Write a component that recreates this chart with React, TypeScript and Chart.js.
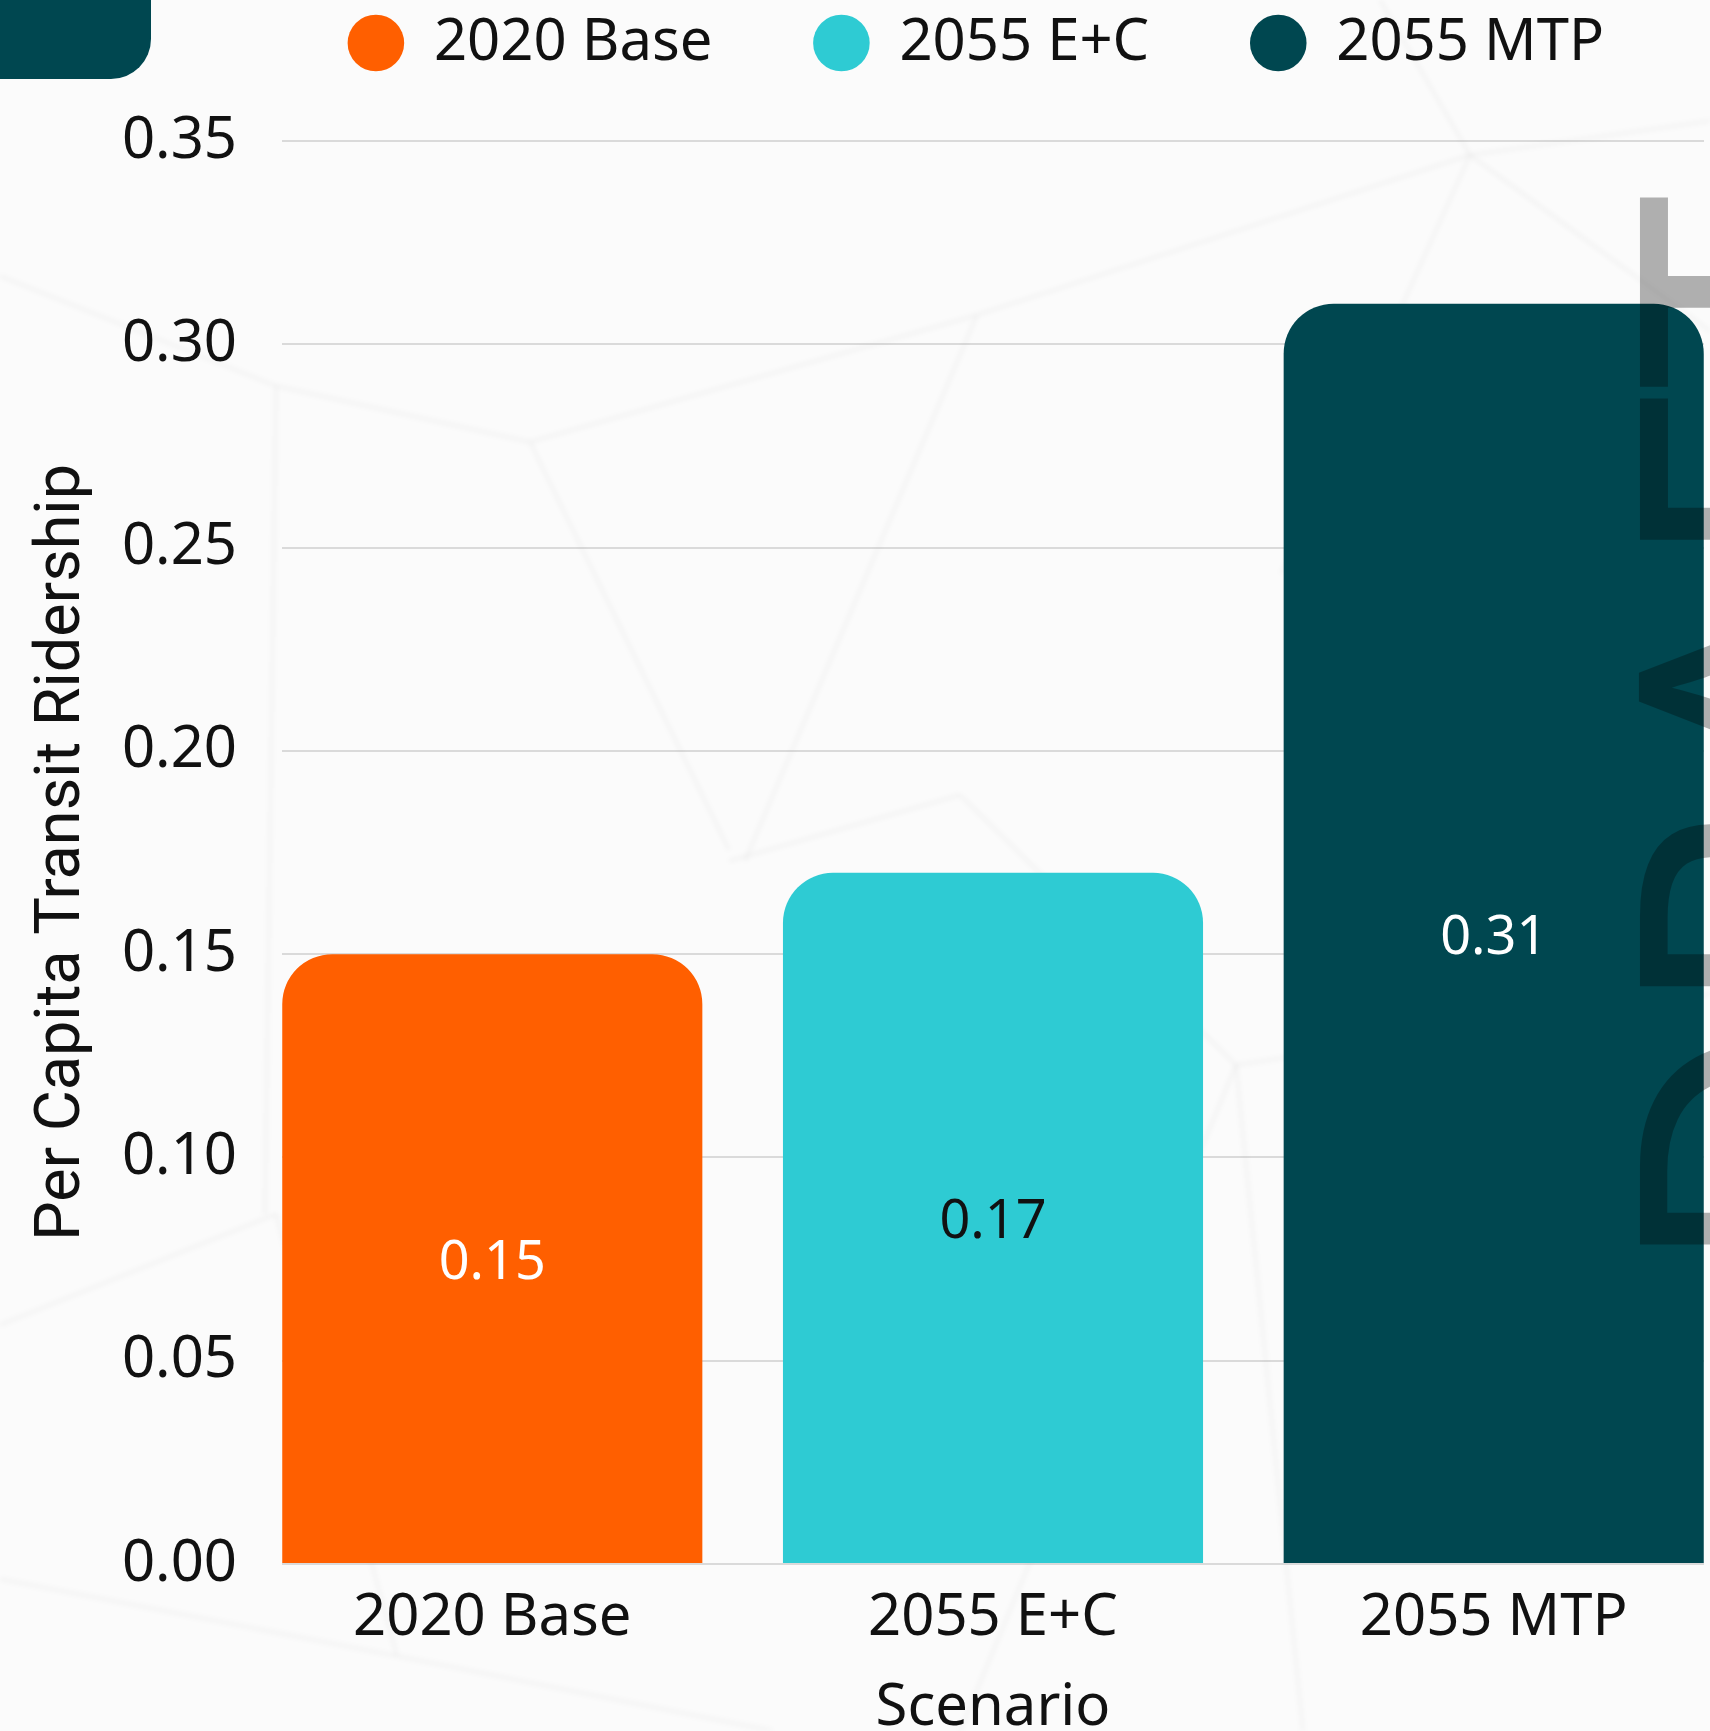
import React, { useEffect, useRef } from 'react';
import { Chart, registerables } from 'chart.js';

Chart.register(...registerables);

// ---- data ----
const categories = ['2020 Base', '2055 E+C', '2055 MTP'];
const ridership = [0.15, 0.17, 0.31];
const barColors = ['#FF5F00', '#2ECBD3', '#004750'];
const valueLabelColors = ['#FFFFFF', '#111111', '#FFFFFF'];
const yAxisTitle = 'Per Capita Transit Ridership';
const xAxisTitle = 'Scenario';
const watermarkText = 'DRAFT';
const yMin = 0;
const yMax = 0.35;
const yStep = 0.05;
const xMin = -0.42;
const xMax = 2.42;

const W = 1710;
const H = 1760;
const FONT = '"Noto Sans", sans-serif';

// faint decorative background lines (display only)
const bgLines: number[][] = [
  [1470, 155, 977, 315],
  [1470, 155, 1710, 121],
  [1470, 155, 1281, 574],
  [1470, 155, 1380, 0],
  [1470, 155, 1710, 331],
  [977, 315, 530, 442],
  [977, 315, 745, 861],
  [530, 442, 276, 386],
  [530, 442, 729, 850],
  [276, 386, 0, 276],
  [276, 386, 265, 1214],
  [960, 795, 1236, 1065],
  [960, 795, 729, 861],
  [1236, 1065, 1710, 994],
  [1236, 1065, 1303, 1731],
  [397, 1656, 0, 1579],
  [397, 1656, 773, 1731],
  [397, 1656, 276, 1214],
  [276, 1214, 0, 1325],
  [1236, 1065, 960, 1731],
];

export default function App() {
  const ref = useRef<HTMLCanvasElement>(null);

  useEffect(() => {
    const canvas = ref.current;
    if (!canvas) return;

    const legendSpacer = {
      id: 'legendSpacer',
      beforeInit(chart: any) {
        const lg = chart.legend;
        if (!lg) return;
        const orig = lg.fit;
        lg.fit = function () {
          orig.call(this);
          this.height = 227;
        };
      },
    };

    const valueLabels = {
      id: 'valueLabels',
      afterDatasetsDraw(chart: any) {
        const ctx = chart.ctx;
        const meta = chart.getDatasetMeta(0);
        ctx.save();
        ctx.font = `54px ${FONT}`;
        ctx.textAlign = 'center';
        ctx.textBaseline = 'middle';
        meta.data.forEach((el: any, i: number) => {
          const p = el.getProps(['x', 'y', 'base'], true);
          ctx.fillStyle = valueLabelColors[i];
          ctx.fillText(ridership[i].toFixed(2), p.x, (p.y + p.base) / 2 + 5);
        });
        ctx.restore();
      },
    };

    const watermark = {
      id: 'watermark',
      afterDraw(chart: any) {
        const ctx = chart.ctx;
        const size = 354;
        ctx.save();
        ctx.font = `${size}px ${FONT}`;
        ctx.fillStyle = 'rgba(0,0,0,0.3)';
        ctx.textAlign = 'left';
        ctx.textBaseline = 'alphabetic';
        ctx.translate(1640 + 0.714 * size, 1247 + 0.09 * size);
        ctx.rotate(-Math.PI / 2);
        ctx.fillText(watermarkText, 0, 0);
        ctx.restore();
      },
    };

    const chart = new Chart(canvas, {
      type: 'bar',
      data: {
        labels: categories,
        datasets: [
          {
            label: 'Per Capita Transit Ridership',
            data: ridership.map((v, i) => ({ x: i, y: v })),
            backgroundColor: barColors,
            borderWidth: 0,
            borderRadius: 50,
            borderSkipped: 'start',
            categoryPercentage: 1,
            barPercentage: 0.839,
          },
        ],
      },
      options: {
        responsive: false,
        animation: false,
        devicePixelRatio: 1,
        layout: { padding: { top: -86, left: 0, right: 6, bottom: 0 } },
        plugins: {
          legend: {
            display: true,
            position: 'top',
            align: 'end',
            fullSize: true,
            labels: {
              font: { family: FONT, size: 58 },
              color: '#111111',
              padding: 100,
              boxWidth: 58,
              boxHeight: 40,
              usePointStyle: true,
              pointStyle: 'circle',
              generateLabels: () =>
                categories.map((c, i) => ({
                  text: c,
                  fillStyle: barColors[i],
                  strokeStyle: barColors[i],
                  lineWidth: 0,
                  pointStyle: 'circle',
                  hidden: false,
                  index: i,
                  datasetIndex: 0,
                  fontColor: '#111111',
                })),
            },
          },
          tooltip: { enabled: false },
        },
        scales: {
          x: {
            type: 'linear',
            min: xMin,
            max: xMax,
            offset: false,
            grid: { display: false },
            border: { display: false },
            ticks: {
              stepSize: 1,
              includeBounds: false,
              autoSkip: false,
              maxRotation: 0,
              callback: (v: any) => (Number.isInteger(v) && categories[v] !== undefined ? categories[v] : ''),
              font: { family: FONT, size: 58 },
              color: '#111111',
              padding: 12,
            },
            title: {
              display: true,
              text: xAxisTitle,
              font: { family: FONT, size: 58 },
              color: '#111111',
              padding: { top: 0, bottom: 17 },
            },
            afterFit: (s: any) => {
              s.height = H - 1564;
            },
          },
          y: {
            min: yMin,
            max: yMax,
            ticks: {
              stepSize: yStep,
              callback: (v: any) => Number(v).toFixed(2),
              font: { family: FONT, size: 58 },
              color: '#111111',
              padding: 45,
            },
            grid: { color: 'rgba(0,0,0,0.13)', lineWidth: 2, drawTicks: false },
            border: { display: false },
            title: {
              display: true,
              text: yAxisTitle,
              font: { family: 'Roboto', size: 63 },
              color: '#111111',
              padding: { top: 25, bottom: 0 },
            },
            afterFit: (s: any) => {
              s.width = 282;
            },
          },
        },
      },
      plugins: [legendSpacer, valueLabels, watermark],
    } as any);

    return () => chart.destroy();
  }, []);

  return (
    <div
      style={{
        position: 'fixed',
        left: 0,
        top: 0,
        width: W,
        height: 1731,
        overflow: 'hidden',
        background: '#fbfbfb',
      }}
    >
      <svg
        width={W}
        height={1731}
        style={{ position: 'absolute', left: 0, top: 0, filter: 'blur(2px)' }}
      >
        {bgLines.map((l, i) => (
          <line key={i} x1={l[0]} y1={l[1]} x2={l[2]} y2={l[3]} stroke="rgba(0,0,0,0.025)" strokeWidth={5} />
        ))}
      </svg>
      <canvas
        ref={ref}
        width={W}
        height={H}
        style={{ position: 'absolute', left: 0, top: 0, display: 'block', width: W, height: H }}
      />
      <div
        style={{
          position: 'absolute',
          left: 0,
          top: 0,
          width: 151,
          height: 79,
          background: '#004750',
          borderBottomRightRadius: 40,
        }}
      />
    </div>
  );
}
